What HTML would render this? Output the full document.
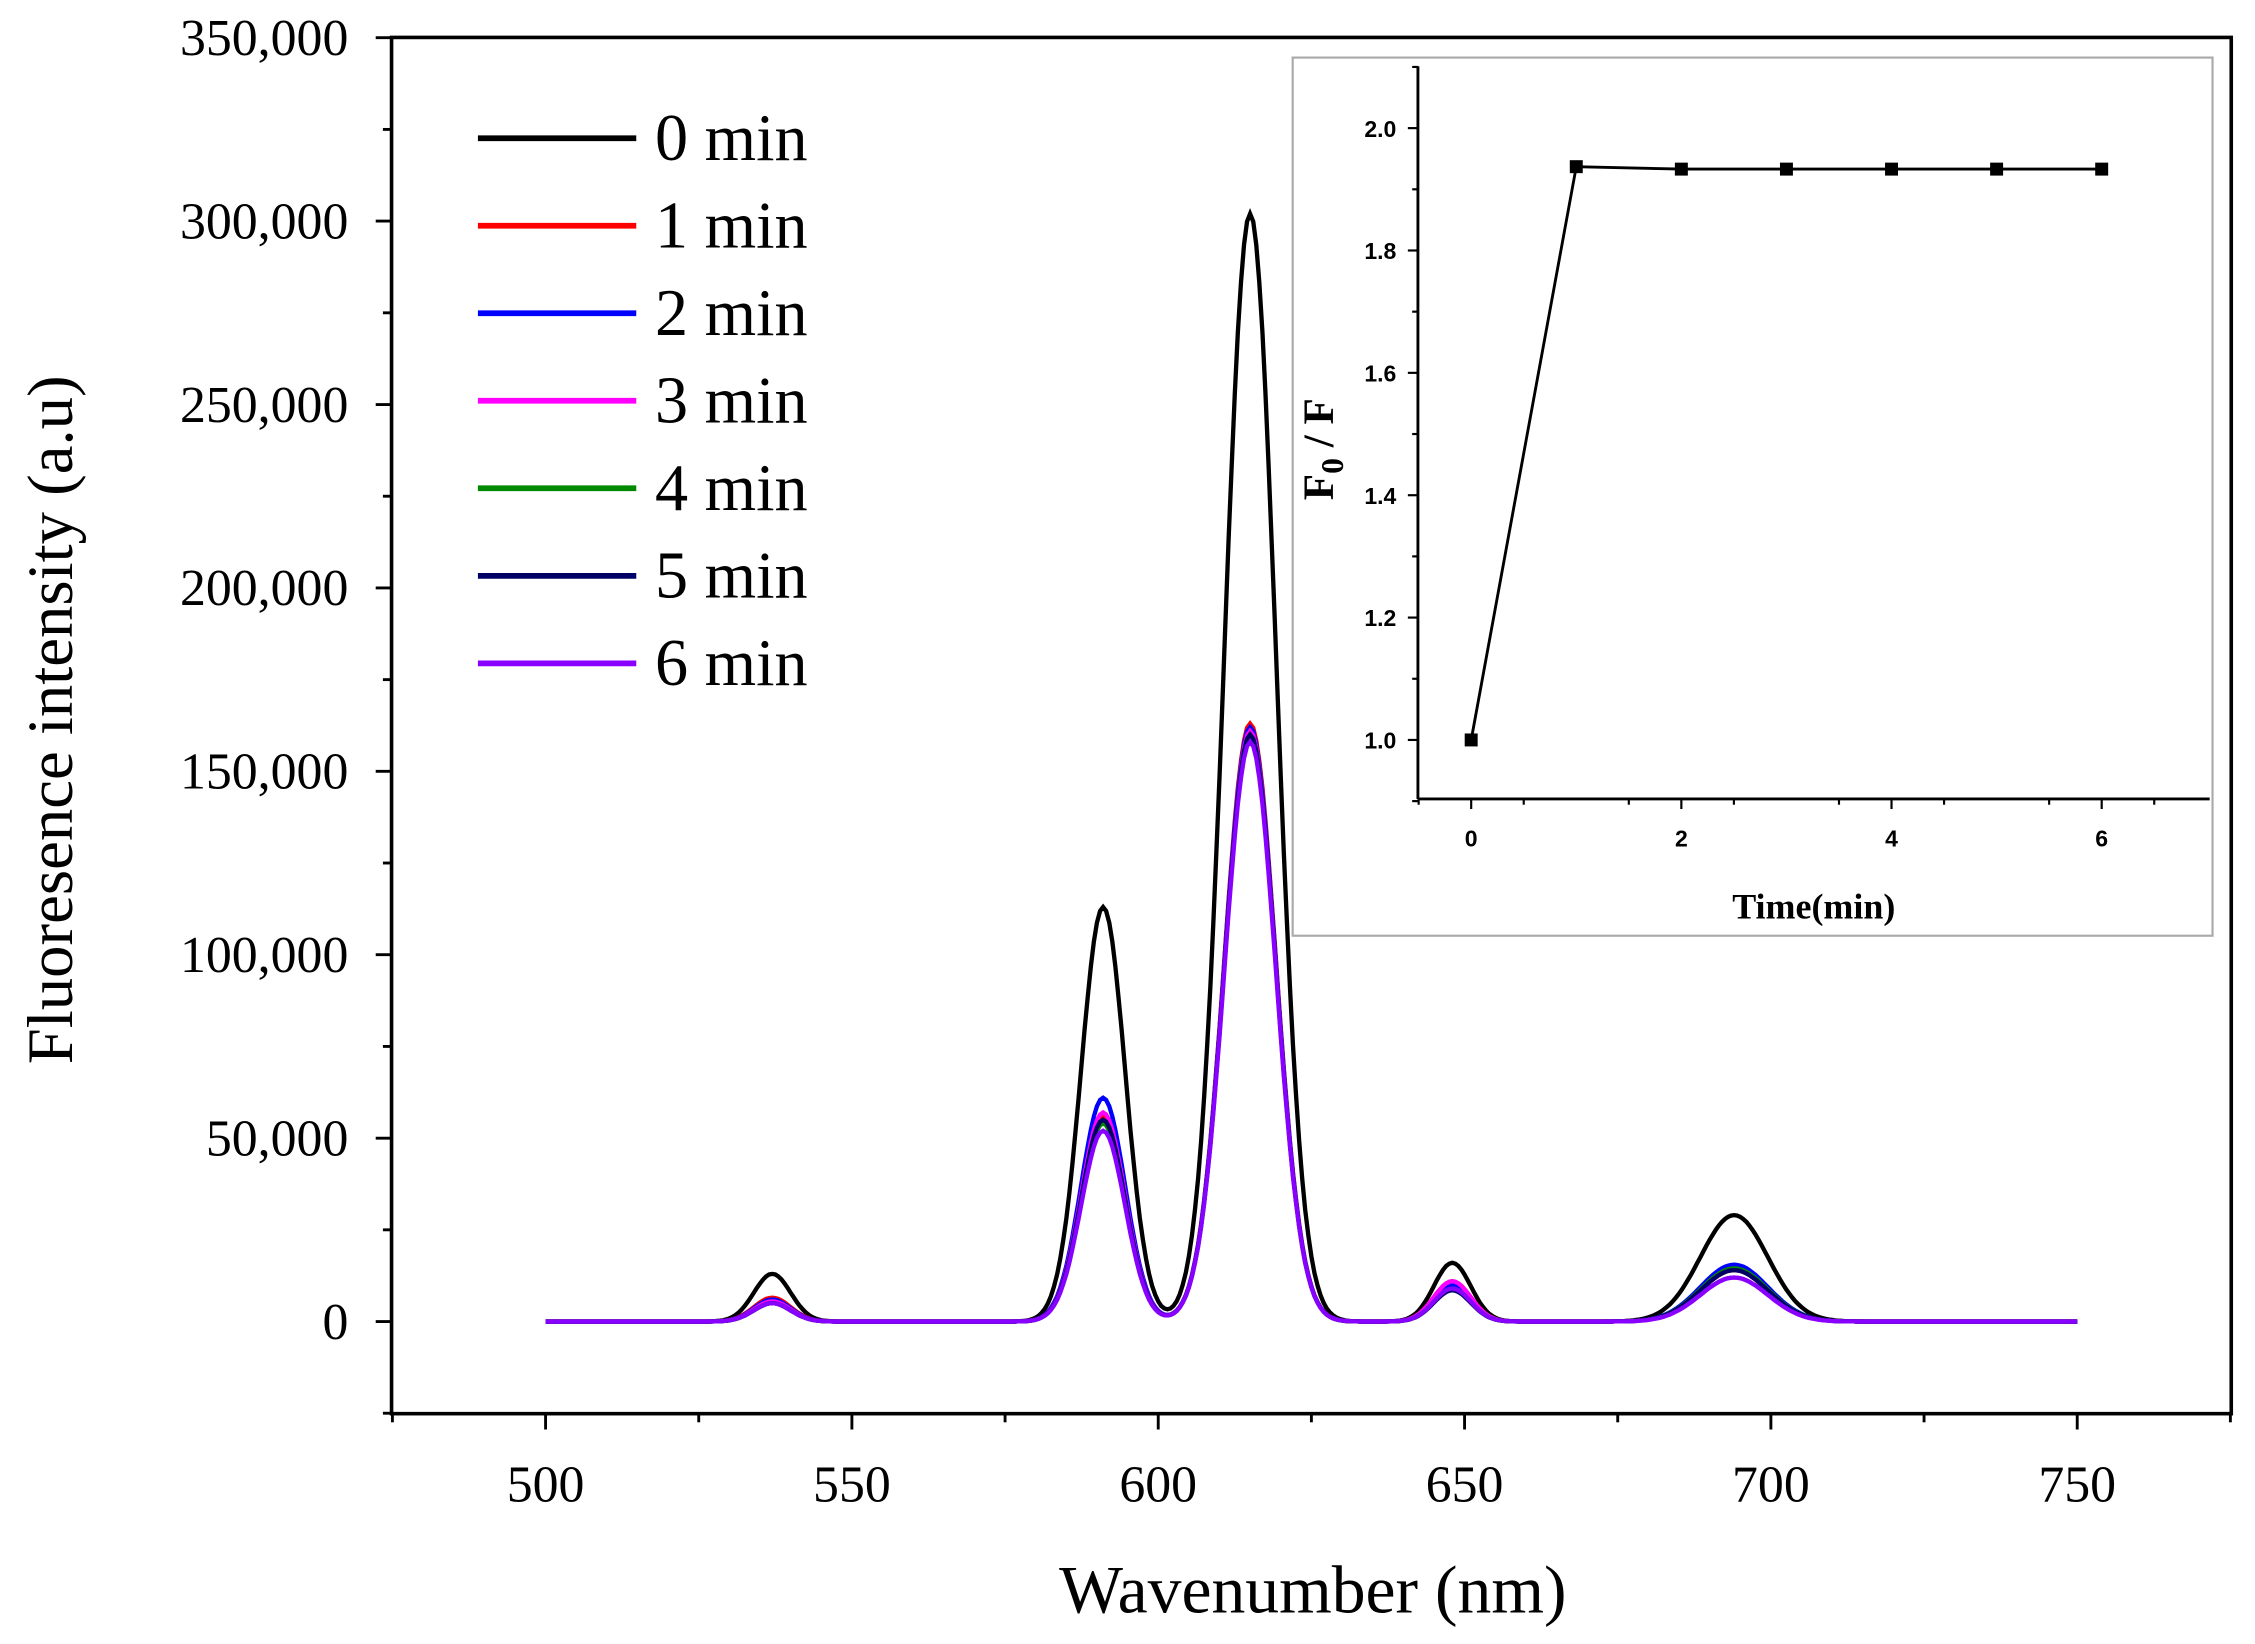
<!DOCTYPE html>
<html><head><meta charset="utf-8"><style>html,body{margin:0;padding:0;background:#fff;}svg{display:block}</style></head>
<body>
<svg id="s" width="2255" height="1644" viewBox="0 0 1566.5 1142" preserveAspectRatio="none" xmlns="http://www.w3.org/2000/svg"></svg>
<script>
const s=document.getElementById('s');let h='';
const X=w=>379+(w-500)*4.256, Y=v=>918-v*127.4/50000;
h+='<rect x="272" y="26" width="1278" height="956" fill="none" stroke="#000" stroke-width="2.5"/>';
const SF='font-family="Liberation Serif, serif"';
for(let v=-25000;v<=350000;v+=25000){const y=Y(v);const maj=v%50000==0;
 h+=`<line x1="${maj?261:266}" x2="272" y1="${y}" y2="${y}" stroke="#000" stroke-width="2"/>`;
 if(maj&&v>=0)h+=`<text x="242" y="${y+12}" text-anchor="end" font-size="36" ${SF}>${v.toLocaleString('en-US')}</text>`;}
for(let w=475;w<=775;w+=25){const x=X(w);const maj=w%50==0;
 h+=`<line x1="${x}" x2="${x}" y1="982" y2="${maj?993:988}" stroke="#000" stroke-width="2"/>`;
 if(maj&&w>=500&&w<=750)h+=`<text x="${x}" y="1043" text-anchor="middle" font-size="36" ${SF}>${w}</text>`;}
h+=`<text transform="translate(50,500) rotate(-90)" text-anchor="middle" font-size="45" ${SF}>Fluoresence intensity (a.u)</text>`;
h+=`<text x="912" y="1120" text-anchor="middle" font-size="47" ${SF}>Wavenumber (nm)</text>`;
const ser=[
['#000',[[537,13000,3],[591,113000,3.6],[615,302000,4.2],[648,16000,3],[694,29000,5.5]]],
['#f00',[[537,6500,3],[591,56000,3.6],[615,163000,4.2],[648,11000,3],[694,14000,5.5]]],
['#00f',[[537,6000,3],[591,61000,3.6],[615,162000,4.2],[648,10000,3],[694,15500,5.5]]],
['#f0f',[[537,5500,3],[591,57000,3.6],[615,161000,4.2],[648,11000,3],[694,12000,5.5]]],
['#080',[[537,5000,3],[591,54000,3.6],[615,160000,4.2],[648,9000,3],[694,14500,5.5]]],
['#006',[[537,5000,3],[591,55000,3.6],[615,160000,4.2],[648,8500,3],[694,14000,5.5]]],
['#80f',[[537,5000,3],[591,52000,3.6],[615,158000,4.2],[648,9000,3],[694,12000,5.5]]]];
ser.forEach(([c,p])=>{let d='';for(let w=500;w<=750;w+=0.5){let v=0;p.forEach(([m,a,sg])=>v+=a*Math.exp(-((w-m)**2)/(2*sg*sg)));d+=(d?'L':'M')+X(w).toFixed(1)+','+Y(v).toFixed(1);}
 h+=`<path d="${d}" fill="none" stroke="${c}" stroke-width="3"/>`;});
ser.forEach(([c],i)=>{const y=96+i*60.8;h+=`<line x1="332" x2="442" y1="${y}" y2="${y}" stroke="${c}" stroke-width="4"/><text x="455" y="${y+15}" font-size="46" ${SF}>${i} min</text>`;});
h+='<rect x="898" y="40" width="639" height="610" fill="#fff" stroke="#aaa" stroke-width="1.5"/>';
const IX=t=>1022+t*73, IY=v=>514-(v-1)*425;
h+='<line x1="985" y1="46" x2="985" y2="555" stroke="#000" stroke-width="2"/><line x1="985" y1="555" x2="1535" y2="555" stroke="#000" stroke-width="2"/>';
const SS='font-family="Liberation Sans, sans-serif" font-weight="bold"';
for(let v=0.9;v<=2.101;v+=0.1){const y=IY(v);const maj=Math.round(v*10)%2==0;h+=`<line x1="${maj?978:981}" x2="985" y1="${y}" y2="${y}" stroke="#000" stroke-width="1.5"/>`;
 if(maj)h+=`<text x="970" y="${y+6}" text-anchor="end" font-size="16" ${SS}>${v.toFixed(1)}</text>`;}
for(let t=-0.5;t<=7.01;t+=1){const x=IX(t);h+=`<line x1="${x}" x2="${x}" y1="555" y2="559" stroke="#000" stroke-width="1.5"/>`;}
for(let t=0;t<=6;t+=2){const x=IX(t);h+=`<line x1="${x}" x2="${x}" y1="555" y2="562" stroke="#000" stroke-width="1.5"/><text x="${x}" y="588" text-anchor="middle" font-size="16" ${SS}>${t}</text>`;}
const dt=[[0,1],[1,1.937],[2,1.933],[3,1.933],[4,1.933],[5,1.933],[6,1.933]];
h+=`<polyline points="${dt.map(([t,v])=>IX(t)+','+IY(v)).join(' ')}" fill="none" stroke="#000" stroke-width="2"/>`;
dt.forEach(([t,v])=>h+=`<rect x="${IX(t)-4.5}" y="${IY(v)-4.5}" width="9" height="9" fill="#000"/>`);
h+=`<text transform="translate(926,312) rotate(-90)" text-anchor="middle" font-size="30" font-family="Liberation Serif, serif" font-weight="bold">F<tspan font-size="22" dy="7">0</tspan><tspan dy="-7"> / F</tspan></text>`;
h+=`<text x="1260" y="638" text-anchor="middle" font-size="25" font-family="Liberation Serif, serif" font-weight="bold">Time(min)</text>`;
s.innerHTML=h;
</script>
</body></html>
